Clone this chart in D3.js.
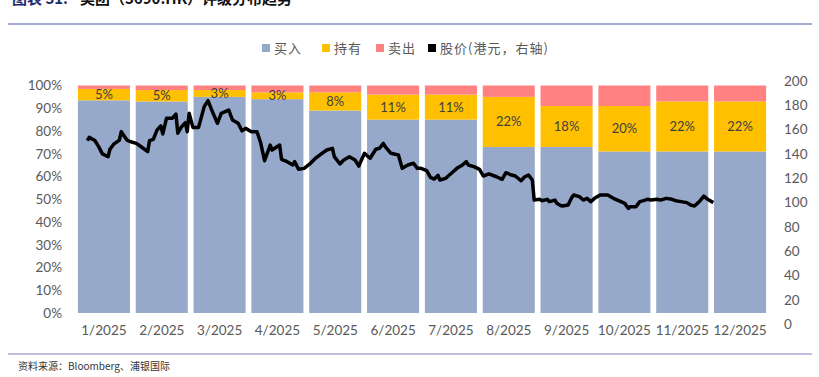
<!DOCTYPE html>
<html>
<head>
<meta charset="utf-8">
<script src="https://cdn.jsdelivr.net/npm/d3@7"></script>
<style>
  body { margin: 0; background: #fff; }
  svg { display: block; font-family: Lato, "Noto Sans CJK SC", sans-serif; }
</style>
</head>
<body>
<svg width="819" height="377"></svg>
<script>
// rating mix per month (%)
const months = ["1/2025","2/2025","3/2025","4/2025","5/2025","6/2025","7/2025","8/2025","9/2025","10/2025","11/2025","12/2025"];
const buyPct  = [93.5, 93, 95, 94, 89, 85, 85, 73, 73, 71, 71, 71];
const holdPct = [5, 5, 3, 3, 8, 11, 11, 22, 18, 20, 22, 22];
const sellPct = [1.5, 2, 2, 3, 3, 4, 4, 5, 9, 9, 7, 7];

// share price (HKD)
const priceDates = ["2025-01-06","2025-01-07","2025-01-10","2025-01-12","2025-01-14","2025-01-17","2025-01-18","2025-01-20","2025-01-23","2025-01-24","2025-01-27","2025-01-29",
  "2025-02-01","2025-02-03","2025-02-07","2025-02-08","2025-02-10","2025-02-12","2025-02-14","2025-02-15","2025-02-17","2025-02-20","2025-02-22","2025-02-23","2025-02-25","2025-02-27","2025-02-28",
  "2025-03-01","2025-03-03","2025-03-06","2025-03-09","2025-03-11","2025-03-13","2025-03-16","2025-03-18","2025-03-22","2025-03-24","2025-03-27","2025-03-29","2025-03-31",
  "2025-04-03","2025-04-06","2025-04-08","2025-04-10","2025-04-13","2025-04-14","2025-04-18","2025-04-19","2025-04-22","2025-04-25","2025-04-26","2025-04-28",
  "2025-05-01","2025-05-04","2025-05-07","2025-05-11","2025-05-13","2025-05-16","2025-05-17","2025-05-20","2025-05-22","2025-05-25","2025-05-28","2025-05-30","2025-05-31",
  "2025-06-02","2025-06-04","2025-06-05","2025-06-08","2025-06-10","2025-06-12","2025-06-13","2025-06-16","2025-06-20","2025-06-22","2025-06-25","2025-06-28","2025-06-30",
  "2025-07-02","2025-07-05","2025-07-07","2025-07-09","2025-07-11","2025-07-12","2025-07-15","2025-07-17","2025-07-19","2025-07-21","2025-07-24","2025-07-26","2025-07-27","2025-07-30",
  "2025-08-02","2025-08-04","2025-08-07","2025-08-11","2025-08-14","2025-08-16","2025-08-19","2025-08-21","2025-08-24","2025-08-26","2025-08-28","2025-08-30","2025-08-31",
  "2025-09-03","2025-09-04","2025-09-07","2025-09-08","2025-09-11","2025-09-12","2025-09-14","2025-09-15","2025-09-18","2025-09-20","2025-09-21","2025-09-24","2025-09-26","2025-09-28","2025-09-30",
  "2025-10-02","2025-10-05","2025-10-09","2025-10-12","2025-10-16","2025-10-18","2025-10-20","2025-10-21","2025-10-24","2025-10-26","2025-10-28","2025-10-30",
  "2025-11-01","2025-11-04","2025-11-06","2025-11-09","2025-11-12","2025-11-14","2025-11-17","2025-11-20","2025-11-22","2025-11-24","2025-11-26","2025-11-27","2025-11-29",
  "2025-12-01","2025-12-04"];
const priceValues = [150.9,153.6,151,146,140,137.7,143.8,148,151.4,158.3,151.4,150,
  148.7,146.5,141.8,150.9,152,159.7,163,156.4,169.3,169.3,172.8,157,162.4,165.7,158.3,
  173.4,161.8,161.8,178.9,183.8,176.1,165.2,173.4,176.1,167.9,165.2,159,161,
  158.3,158.3,148.7,134.4,147.3,143.2,147.3,135.5,133.6,130.9,133.6,127.3,
  128.1,131.7,136.4,141,143.2,144.6,137.7,131.7,135,137.7,135,130,133.6,
  140.5,137.7,136.4,143.8,144.6,148.7,146,140.5,139.1,128.1,130.9,132.3,128.1,
  128.1,126.2,120.7,119.3,122.4,118.5,119.9,122.6,125.3,128.1,130.9,133.6,130.9,129.5,
  127.3,121.8,123.5,121.2,119.1,124.5,122.6,121.8,117.9,121.2,122.6,118.5,102,
  102.6,101.5,102.6,100.7,102,99.3,97.5,97.1,97.9,104.3,106.2,104.8,102,103.4,100.7,
  103.4,106.2,106.2,103.4,100.7,99.3,95.2,96.6,96.6,100.7,101.5,102.6,
  102,102.6,102,103.4,102.6,101.5,100.7,99.9,97.9,97.1,99.9,101.5,105.3,
  102.6,99.9];

const leftTicks = d3.range(0, 101, 10);
const rightTicks = d3.range(0, 201, 20);

const colors = { buy: "#97A9CA", hold: "#FFC000", sell: "#FF8181" };
const legendItems = [
  {label: "买入", color: colors.buy},
  {label: "持有", color: colors.hold},
  {label: "卖出", color: colors.sell},
  {label: "股价(港元，右轴)", color: "#000"}
];

const svg = d3.select("svg");

// title (cut off at top, as in the source) + rule
svg.append("text").attr("x", 12).attr("y", 4)
  .style("font-family", "'Noto Sans CJK SC'").style("font-size", "15px").style("font-weight", "bold")
  .attr("fill", "#1F2A6E").text("图表 31:");
svg.append("text").attr("x", 80).attr("y", 4)
  .style("font-family", "'Noto Sans CJK SC'").style("font-size", "15px").style("font-weight", "bold")
  .attr("fill", "#111").text("美团（3690.HK）评级分布趋势");
svg.append("line").attr("x1", 8).attr("x2", 812).attr("y1", 24).attr("y2", 24)
  .attr("stroke", "#4A5AA8").attr("stroke-width", 1.2);

// scales
const x = d3.scaleBand().domain(months).range([75, 769]).paddingInner(0.1).paddingOuter(0.05);
const yL = d3.scaleLinear().domain([0, 100]).range([313, 85.5]);
const yR = d3.scaleLinear().domain([0, 200]).range([324, 81]);
const t = d3.scaleTime()
  .domain([new Date(2025, 0, 1), new Date(2026, 0, 1)])
  .range([x(months[0]), x(months[11]) + x.bandwidth()]);

// stacked bars
const rows = months.map((m, i) => ({month: m, buy: buyPct[i], hold: holdPct[i], sell: sellPct[i]}));
const stack = d3.stack().keys(["buy", "hold", "sell"]);
const series = stack(rows);

const barG = svg.append("g");
series.forEach(s => {
  barG.selectAll(null)
    .data(s)
    .enter().append("rect")
    .attr("x", d => x(d.data.month))
    .attr("width", x.bandwidth())
    .attr("y", d => yL(d[1]))
    .attr("height", d => yL(d[0]) - yL(d[1]))
    .attr("fill", colors[s.key]);
});

// hold labels
const holdS = series[1];
barG.selectAll(".hl")
  .data(holdS)
  .enter().append("text")
  .attr("class", "hl")
  .attr("x", d => x(d.data.month) + x.bandwidth() / 2)
  .attr("y", d => (yL(d[0]) + yL(d[1])) / 2)
  .attr("dy", "0.35em")
  .attr("text-anchor", "middle")
  .style("font-size", "13px")
  .attr("fill", "#404040")
  .text(d => d.data.hold + "%");

// price line
const priceData = priceDates.map((d, i) => ({date: new Date(d + "T00:00:00"), v: priceValues[i]}));
const line = d3.line().x(d => t(d.date)).y(d => yR(d.v));
svg.append("path")
  .datum(priceData)
  .attr("d", line)
  .attr("fill", "none")
  .attr("stroke", "#000")
  .attr("stroke-width", 3.5)
  .attr("stroke-linejoin", "round");

// axes
function styleAxis(g) {
  g.select(".domain").remove();
  g.selectAll("text").attr("fill", "#595959").style("font-size", "13.5px").style("font-family", "Lato, sans-serif");
}
svg.append("g").attr("transform", "translate(66,0)")
  .call(d3.axisLeft(yL).tickValues(leftTicks).tickFormat(d => d + "%").tickSize(0).tickPadding(4))
  .call(styleAxis);
svg.append("g").attr("transform", "translate(780,0)")
  .call(d3.axisRight(yR).tickValues(rightTicks).tickSize(0).tickPadding(4))
  .call(styleAxis);
svg.append("g").attr("transform", "translate(0,313)")
  .call(d3.axisBottom(x).tickSize(0).tickPadding(12))
  .call(styleAxis);

// legend
const legX = [262, 322, 376, 428];
const legend = svg.append("g");
legendItems.forEach((it, i) => {
  legend.append("rect").attr("x", legX[i]).attr("y", 44).attr("width", 8).attr("height", 8).attr("fill", it.color);
  legend.append("text").attr("x", legX[i] + 12).attr("y", 48).attr("dy", "0.35em")
    .style("font-family", "'Noto Sans CJK SC'").style("font-size", "13px").style("letter-spacing", "1px")
    .attr("fill", "#595959").text(it.label);
});

// footer
svg.append("line").attr("x1", 8).attr("x2", 812).attr("y1", 354).attr("y2", 354)
  .attr("stroke", "#7F7FBF").attr("stroke-width", 1);
svg.append("text").attr("x", 18).attr("y", 370)
  .style("font-family", "'Noto Sans CJK SC'").style("font-size", "10px")
  .attr("fill", "#333").text("资料来源：Bloomberg、浦银国际");
</script>
</body>
</html>
